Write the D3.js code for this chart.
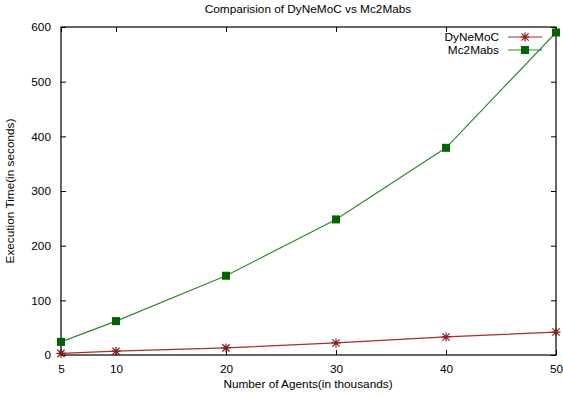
<!DOCTYPE html>
<html>
<head>
<meta charset="utf-8">
<script src="https://cdn.jsdelivr.net/npm/d3@7"></script>
<style>
  html, body { margin: 0; padding: 0; background: #fff; }
  svg { display: block; font-family: "Liberation Sans", Arial, Helvetica, sans-serif; }
</style>
</head>
<body>
<svg id="chart" width="563" height="397"></svg>
<script>
// Agent counts (thousands) and execution times (seconds)
const agents = [5, 10, 20, 30, 40, 50];
const dynemocTimes = [3, 7, 13, 22, 33, 42];
const mc2mabsTimes = [24, 62, 145, 248, 379, 590];
const xTicks = [5, 10, 20, 30, 40, 50];
const yTicks = [0, 100, 200, 300, 400, 500, 600];

const svg = d3.select("#chart");
const W = 563, H = 397;
const m = { left: 61, right: 7, top: 27, bottom: 42 };
const x = d3.scaleLinear().domain([5, 50]).range([m.left, W - m.right]);
const y = d3.scaleLinear().domain([0, 600]).range([H - m.bottom, m.top]);

const tickLen = 5;
const axisColor = "#000";
const fontSize = 11.8;

// Inward ticks on all four sides, gnuplot-like
const xAxisB = d3.axisBottom(x).tickValues(xTicks).tickSizeInner(-tickLen).tickSizeOuter(0).tickPadding(10);
const xAxisT = d3.axisTop(x).tickValues(xTicks).tickSizeInner(-tickLen).tickSizeOuter(0).tickFormat("");
const yAxisL = d3.axisLeft(y).tickValues(yTicks).tickSizeInner(-tickLen).tickSizeOuter(0).tickPadding(10);
const yAxisR = d3.axisRight(y).tickValues(yTicks).tickSizeInner(-tickLen).tickSizeOuter(0).tickFormat("");

function styleAxis(g) {
  g.select(".domain").remove();
  g.selectAll(".tick line").attr("stroke", axisColor).attr("stroke-width", 1);
  g.selectAll("text").attr("font-size", fontSize).attr("fill", "#000")
    .attr("font-family", "'Liberation Sans', Arial, sans-serif");
}

svg.append("g").attr("transform", `translate(0,${H - m.bottom})`).call(xAxisB).call(styleAxis);
svg.append("g").attr("transform", `translate(0,${m.top})`).call(xAxisT).call(styleAxis);
svg.append("g").attr("transform", `translate(${m.left},0)`).call(yAxisL).call(styleAxis);
svg.append("g").attr("transform", `translate(${W - m.right},0)`).call(yAxisR).call(styleAxis);

// Plot border
svg.append("rect")
  .attr("x", m.left).attr("y", m.top)
  .attr("width", W - m.left - m.right).attr("height", H - m.top - m.bottom)
  .attr("fill", "none").attr("stroke", axisColor).attr("stroke-width", 1.2);

// Series
const series = [
  { name: "DyNeMoC", values: dynemocTimes, line: "#a4302a", mark: "#8b1a1a", type: "star" },
  { name: "Mc2Mabs", values: mc2mabsTimes, line: "#2e8b2e", mark: "#006400", type: "square" }
];

const lineGen = d3.line().x(d => x(d[0])).y(d => y(d[1]));

function drawMarker(g, cx, cy, s) {
  if (s.type === "square") {
    g.append("rect").attr("x", cx - 4).attr("y", cy - 4).attr("width", 8).attr("height", 8)
      .attr("fill", s.mark);
  } else {
    const r = 4.5;
    const p = d3.path();
    p.moveTo(cx - r, cy); p.lineTo(cx + r, cy);
    p.moveTo(cx, cy - r); p.lineTo(cx, cy + r);
    const d = r * 0.8;
    p.moveTo(cx - d, cy - d); p.lineTo(cx + d, cy + d);
    p.moveTo(cx - d, cy + d); p.lineTo(cx + d, cy - d);
    g.append("path").attr("d", p.toString()).attr("stroke", s.mark).attr("stroke-width", 1.2).attr("fill", "none");
  }
}

series.forEach(s => {
  const pts = agents.map((a, i) => [a, s.values[i]]);
  svg.append("path").datum(pts).attr("d", lineGen)
    .attr("fill", "none").attr("stroke", s.line).attr("stroke-width", 1.2);
  const g = svg.append("g");
  pts.forEach(p => drawMarker(g, x(p[0]), y(p[1]), s));
});

// Legend
const legendX = 499, legendY0 = 37, legendDy = 13;
series.forEach((s, i) => {
  const ly = legendY0 + i * legendDy;
  svg.append("text").attr("x", legendX).attr("y", ly).attr("dy", "0.35em")
    .attr("text-anchor", "end").attr("font-size", fontSize).text(s.name);
  svg.append("line").attr("x1", 508).attr("x2", 542).attr("y1", ly).attr("y2", ly)
    .attr("stroke", s.line).attr("stroke-width", 1.2);
  drawMarker(svg.append("g"), 525, ly, s);
});

// Title and axis labels
svg.append("text").attr("x", 308).attr("y", 13).attr("text-anchor", "middle")
  .attr("font-size", fontSize).text("Comparision of DyNeMoC vs Mc2Mabs");
svg.append("text").attr("x", 308).attr("y", 388).attr("text-anchor", "middle")
  .attr("font-size", fontSize).text("Number of Agents(in thousands)");
svg.append("text").attr("transform", `translate(14,${(m.top + H - m.bottom) / 2}) rotate(-90)`)
  .attr("text-anchor", "middle").attr("font-size", fontSize).text("Execution Time(in seconds)");
</script>
</body>
</html>
